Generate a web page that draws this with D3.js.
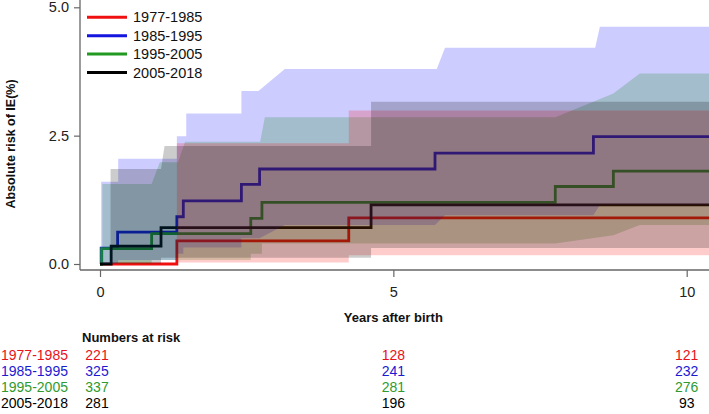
<!DOCTYPE html>
<html><head><meta charset="utf-8">
<script src="https://cdn.jsdelivr.net/npm/d3@7"></script>
<style>body{margin:0;background:#fff}svg{display:block;font-family:"Liberation Sans",Arial,sans-serif}</style>
</head><body><svg id="c" width="709" height="414"></svg>
<script>
// ---- data ----
const groups = ["1977-1985", "1985-1995", "1995-2005", "2005-2018"];
const lineColors = ["#f01010", "#1515e0", "#229a22", "#000000"];
const bandColors = ["rgba(255,0,0,0.2)", "rgba(0,0,255,0.2)", "rgba(0,128,0,0.2)", "rgba(0,0,0,0.2)"];
const textColors = ["#e8121a", "#1a1ad2", "#2f9a2f", "#000000"];
const tEnd = 10.4;

// step times and risk (%) for each group
const redTimes = [0, 1.31, 4.24];
const redRisk = [0, 0.45, 0.90];
const blueTimes = [0, 0.02, 0.30, 1.31, 1.42, 2.41, 2.72, 5.71, 8.41];
const blueRisk = [0, 0.31, 0.62, 0.92, 1.23, 1.55, 1.85, 2.16, 2.48];
const greenTimes = [0, 0.03, 0.88, 2.57, 2.76, 7.76, 8.75];
const greenRisk = [0, 0.30, 0.59, 0.89, 1.20, 1.51, 1.81];
const blackTimes = [0, 0.19, 1.04, 4.62];
const blackRisk = [0, 0.35, 0.71, 1.15];

// confidence band vertices [time, risk]
const redUpper = [[1.31,0],[1.31,2.35],[4.24,2.35],[4.24,2.99],[10.4,2.99]];
const redLower = [[1.31,0],[1.31,0.03],[4.24,0.03],[4.24,0.17],[10.4,0.17]];
const blueUpper = [[0.02,0],[0.02,1.60],[0.31,1.60],[0.31,2.05],[1.31,2.05],[1.31,2.49],[1.47,2.49],[1.47,2.93],[2.41,2.93],[2.41,3.37],[2.70,3.37],[3.15,3.80],[5.74,3.80],[5.88,4.21],[8.44,4.21],[8.52,4.62],[10.4,4.62]];
const blueLower = [[0.02,0],[0.02,0.01],[0.31,0.01],[0.31,0.08],[1.31,0.08],[1.31,0.2],[1.42,0.2],[1.42,0.32],[2.41,0.32],[2.41,0.5],[2.72,0.5],[3.15,0.76],[5.71,0.76],[5.88,0.95],[8.41,0.95],[8.52,1.15],[10.4,1.15]];
const greenUpper = [[0.04,0],[0.04,1.56],[0.88,1.56],[1.02,1.98],[1.33,1.98],[1.45,2.38],[2.73,2.38],[2.81,2.86],[7.76,2.86],[8.75,3.32],[9.20,3.71],[10.4,3.71]];
const greenLower = [[0.04,0],[0.04,0.01],[0.88,0.01],[0.88,0.08],[2.57,0.08],[2.57,0.2],[2.76,0.2],[2.76,0.40],[7.76,0.40],[8.75,0.56],[9.20,0.76],[10.4,0.76]];
const blackUpper = [[0.18,0],[0.18,1.85],[1.04,1.85],[1.10,2.30],[4.62,2.30],[4.62,3.16],[10.4,3.16]];
const blackLower = [[0.18,0],[0.18,0.01],[1.04,0.01],[1.04,0.12],[4.62,0.12],[4.62,0.31],[10.4,0.31]];

const xTicks = [0, 5, 10];
const yTicks = [0, 2.5, 5];
const riskTimes = [0, 5, 10];
const atRisk = [[221, 128, 121], [325, 241, 232], [337, 281, 276], [281, 196, 93]];

// ---- drawing ----
const svg = d3.select("#c");
const x = d3.scaleLinear().domain([0, 10]).range([100, 686.7]);
const y = d3.scaleLinear().domain([0, 5]).range([264, 7.3]);

const series = [
  {t: redTimes, r: redRisk, c: lineColors[0]},
  {t: blueTimes, r: blueRisk, c: lineColors[1]},
  {t: greenTimes, r: greenRisk, c: lineColors[2]},
  {t: blackTimes, r: blackRisk, c: lineColors[3]}
];
const step = d3.line().x(d => x(d[0])).y(d => y(d[1])).curve(d3.curveStepAfter);
series.forEach(s => {
  const pts = s.t.map((t, i) => [t, s.r[i]]);
  pts.push([tEnd, s.r[s.r.length - 1]]);
  svg.append("path").attr("d", step(pts)).attr("fill", "none")
    .attr("stroke", s.c).attr("stroke-width", 2.8).attr("stroke-linejoin", "miter");
});

const bands = [
  {u: blueUpper, l: blueLower, c: bandColors[1]},
  {u: greenUpper, l: greenLower, c: bandColors[2]},
  {u: redUpper, l: redLower, c: bandColors[0]},
  {u: blackUpper, l: blackLower, c: bandColors[3]}
];
const poly = d3.line().x(d => x(d[0])).y(d => y(d[1]));
bands.forEach(b => {
  const pts = b.u.concat(b.l.slice().reverse());
  svg.append("path").attr("d", poly(pts) + "Z").attr("fill", b.c).attr("stroke", "none");
});

// axes
const axisCol = "#666";
const yAxis = svg.append("g").attr("transform", "translate(80,0)")
  .call(d3.axisLeft(y).tickValues(yTicks).tickFormat(d3.format(".1f")).tickSize(6).tickPadding(5));
yAxis.select(".domain").remove();
svg.append("line").attr("x1", 80).attr("x2", 80).attr("y1", 0).attr("y2", 270).attr("stroke", axisCol).attr("stroke-width", 1.3);
const xAxis = svg.append("g").attr("transform", "translate(0,270)")
  .call(d3.axisBottom(x).tickValues(xTicks).tickFormat(d3.format("d")).tickSize(7).tickPadding(10));
xAxis.select(".domain").remove();
svg.append("line").attr("x1", 80).attr("x2", 709).attr("y1", 270).attr("y2", 270).attr("stroke", axisCol).attr("stroke-width", 1.3);
svg.selectAll(".tick line").attr("stroke", axisCol).attr("stroke-width", 1.2);
svg.selectAll(".tick text").attr("font-size", 14.5).attr("fill", "#222").attr("font-family", "Liberation Sans, Arial, sans-serif");

svg.append("text").attr("transform", "translate(15,144) rotate(-90)").attr("text-anchor", "middle")
  .attr("font-size", 12.5).attr("font-weight", "bold").attr("fill", "#111").text("Absolute risk of IE(%)");
svg.append("text").attr("x", x(5)).attr("y", 322).attr("text-anchor", "middle")
  .attr("font-size", 13).attr("font-weight", "bold").attr("fill", "#111").text("Years after birth");

// legend
groups.forEach((g, i) => {
  const ly = 17.3 + i * 18.4;
  svg.append("line").attr("x1", 87).attr("x2", 127).attr("y1", ly).attr("y2", ly)
    .attr("stroke", lineColors[i]).attr("stroke-width", 3);
  svg.append("text").attr("x", 133).attr("y", ly + 5).attr("font-size", 14.5).attr("fill", "#111").text(g);
});

// numbers at risk table
svg.append("text").attr("x", 82).attr("y", 342).attr("font-size", 13).attr("font-weight", "bold").attr("fill", "#111").text("Numbers at risk");
groups.forEach((g, i) => {
  const ry = 360 + i * 16;
  svg.append("text").attr("x", 1).attr("y", ry).attr("font-size", 14).attr("fill", textColors[i]).text(g);
  riskTimes.forEach((t, j) => {
    svg.append("text").attr("x", x(t) - (j === 0 ? 3 : 0)).attr("y", ry).attr("text-anchor", "middle")
      .attr("font-size", 14).attr("fill", textColors[i]).text(atRisk[i][j]);
  });
});
</script></body></html>
